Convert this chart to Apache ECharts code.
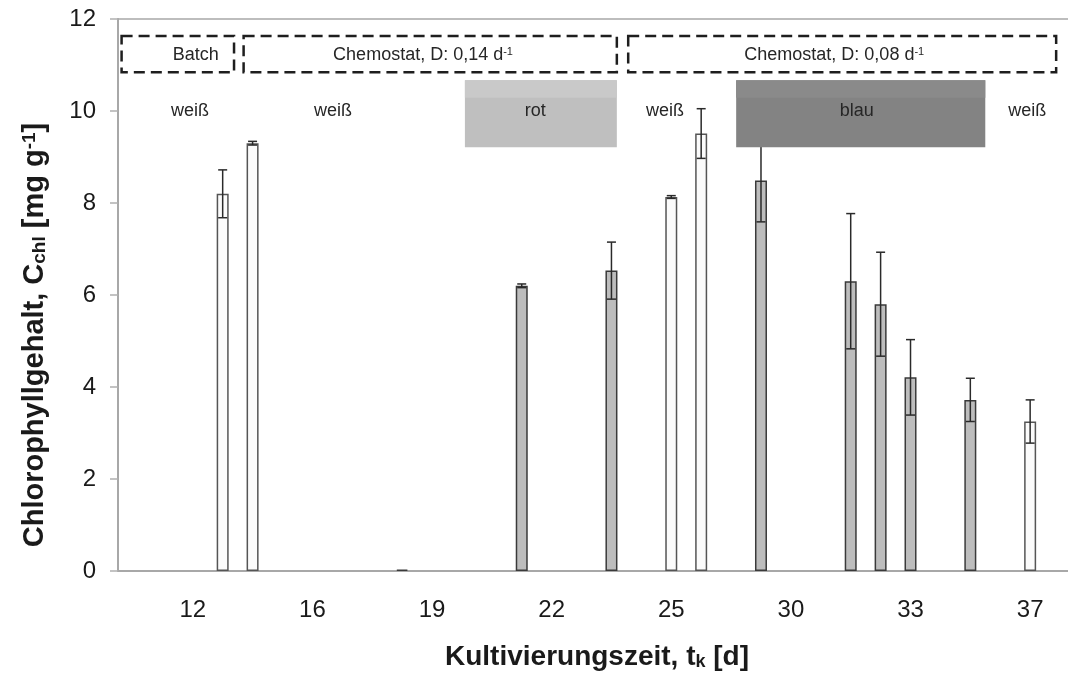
<!DOCTYPE html>
<html>
<head>
<meta charset="utf-8">
<script src="https://cdn.jsdelivr.net/npm/echarts@6/dist/echarts.min.js"></script>
<style>
  html, body { margin: 0; padding: 0; background: #ffffff; }
  #chart { width: 1068px; height: 678px; }
</style>
</head>
<body>
<div id="chart"></div>
<script>
// Category slots along the cultivation time axis (one slot per sampling position)
const slotCount = 32;
const tickSlots = [2, 6, 10, 14, 18, 22, 26, 30];
const tickTexts = ['12', '16', '19', '22', '25', '30', '33', '37'];

// Chlorophyll content per sample: slot, mean, standard deviation, shaded (coloured light) or open (white light)
const sampleSlot = [3, 4, 9, 13, 16, 18, 19, 21, 24, 25, 26, 28, 30];
const chlMean    = [8.20, 9.30, 0.03, 6.20, 6.53, 8.13, 9.51, 8.49, 6.30, 5.80, 4.21, 3.72, 3.25];
const chlSd      = [0.52, 0.04, 0.00, 0.04, 0.62, 0.03, 0.54, 0.90, 1.47, 1.13, 0.82, 0.47, 0.47];
const shaded     = [false, false, true, true, true, false, false, true, true, true, true, true, false];

// Cultivation phases (dashed boxes), in slot units
const phaseLabel = ['Batch', 'Chemostat, D: 0,14 d{sup|-1}', 'Chemostat, D: 0,08 d{sup|-1}'];
const phaseStart = [0.12, 4.20, 17.06];
const phaseEnd   = [3.88, 16.68, 31.37];
const phaseTextX = [2.6, 10.2, 23.95];
const phaseBand  = [10.84, 11.63];

// Coloured light periods (filled boxes)
const lightLabel = ['rot', 'blau'];
const lightStart = [11.60, 20.67];
const lightEnd   = [16.68, 29.00];
const lightTextX = [13.95, 24.7];
const lightFill  = ['#bfbfbf', '#838383'];
const lightTop   = ['#c9c9c9', '#8a8a8a'];
const lightBand  = [9.21, 10.67];

// White light labels
const whiteTextX = [2.41, 7.19, 18.29, 30.4];
const lightTextY = 10.0;

const FONT = "'Liberation Sans', Arial, sans-serif";

const slotNames = Array.from({ length: slotCount }, (_, i) => String(i));
const openData = Array(slotCount).fill('-');
const shadedData = Array(slotCount).fill('-');
const errData = [];
sampleSlot.forEach((s, i) => {
  if (shaded[i]) shadedData[s] = chlMean[i]; else openData[s] = chlMean[i];
  if (chlMean[i] > 0.1) errData.push([s, chlMean[i] - chlSd[i], chlMean[i] + chlSd[i]]);
});

const phaseData = phaseLabel.map((t, i) => [phaseStart[i], phaseEnd[i], phaseBand[0], phaseBand[1], phaseTextX[i], i]);
const lightData = lightLabel.map((t, i) => [lightStart[i], lightEnd[i], lightBand[0], lightBand[1], lightTextX[i], i]);
const whiteData = whiteTextX.map(x => [x, lightTextY]);

const chart = echarts.init(document.getElementById('chart'), null, { renderer: 'canvas' });

const option = {
  backgroundColor: '#ffffff',
  animation: false,
  grid: {
    left: 118, top: 19, width: 957, height: 552,
    outerBoundsMode: 'none', containLabel: false,
    show: true, borderColor: '#bdbdbd', borderWidth: 2
  },
  xAxis: [
    {
      type: 'category',
      data: slotNames,
      axisLine: { lineStyle: { color: '#a8a8a8', width: 2 } },
      axisTick: { show: false },
      axisLabel: {
        interval: 0,
        margin: 27,
        fontFamily: FONT,
        fontSize: 24,
        color: '#1a1a1a',
        formatter: (v, i) => { const k = tickSlots.indexOf(i); return k >= 0 ? tickTexts[k] : ''; }
      },
      splitLine: { show: false }
    },
    { type: 'value', min: 0, max: slotCount, show: false }
  ],
  yAxis: {
    type: 'value',
    min: 0, max: 12, interval: 2,
    axisLine: { show: true, lineStyle: { color: '#a8a8a8', width: 2 } },
    axisTick: { show: true, length: 8, lineStyle: { color: '#b0b0b0', width: 1.5 } },
    axisLabel: { margin: 22, fontFamily: FONT, fontSize: 24, color: '#1a1a1a' },
    splitLine: { show: false }
  },
  series: [
    {
      type: 'bar', name: 'weiß', data: openData, barWidth: 12, barGap: '-100%', z: 2,
      itemStyle: { color: '#fbfbfb', borderColor: '#555555', borderWidth: 1.5 }
    },
    {
      type: 'bar', name: 'farbig', data: shadedData, barWidth: 12, barGap: '-100%', z: 2,
      itemStyle: { color: '#bdbdbd', borderColor: '#3a3a3a', borderWidth: 1.5 }
    },
    {
      // error bars (± standard deviation)
      type: 'custom', data: errData, z: 3, encode: { x: 0, y: [1, 2] },
      renderItem: (params, api) => {
        const x = api.value(0);
        const lo = api.coord([x, api.value(1)]);
        const hi = api.coord([x, api.value(2)]);
        const hw = 4.5;
        const st = { stroke: '#2a2a2a', lineWidth: 1.5 };
        return {
          type: 'group',
          children: [
            { type: 'line', shape: { x1: lo[0], y1: lo[1], x2: hi[0], y2: hi[1] }, style: st },
            { type: 'line', shape: { x1: lo[0] - hw, y1: lo[1], x2: lo[0] + hw, y2: lo[1] }, style: st },
            { type: 'line', shape: { x1: hi[0] - hw, y1: hi[1], x2: hi[0] + hw, y2: hi[1] }, style: st }
          ]
        };
      }
    },
    {
      // coloured light periods
      type: 'custom', xAxisIndex: 1, data: lightData, z: 5, encode: { x: [0, 1], y: [2, 3] },
      renderItem: (params, api) => {
        const i = api.value(5);
        const p0 = api.coord([api.value(0), api.value(3)]);
        const p1 = api.coord([api.value(1), api.value(2)]);
        const h = p1[1] - p0[1];
        const t = api.coord([api.value(4), lightTextY]);
        return {
          type: 'group',
          children: [
            { type: 'rect', shape: { x: p0[0], y: p0[1], width: p1[0] - p0[0], height: h }, style: { fill: lightFill[i] } },
            { type: 'rect', shape: { x: p0[0], y: p0[1], width: p1[0] - p0[0], height: h * 0.26 }, style: { fill: lightTop[i] } },
            { type: 'text', x: t[0], y: t[1], style: { text: lightLabel[i], font: '18px ' + FONT, fill: '#262626', align: 'center', verticalAlign: 'middle' } }
          ]
        };
      }
    },
    {
      // cultivation phases
      type: 'custom', xAxisIndex: 1, data: phaseData, z: 5, encode: { x: [0, 1], y: [2, 3] },
      renderItem: (params, api) => {
        const i = api.value(5);
        const p0 = api.coord([api.value(0), api.value(3)]);
        const p1 = api.coord([api.value(1), api.value(2)]);
        const cy = (p0[1] + p1[1]) / 2 + 1;
        const tx = api.coord([api.value(4), 0])[0];
        return {
          type: 'group',
          children: [
            { type: 'rect', shape: { x: p0[0], y: p0[1], width: p1[0] - p0[0], height: p1[1] - p0[1] },
              style: { fill: 'none', stroke: '#1e1e1e', lineWidth: 2.5, lineDash: [11, 6] } },
            { type: 'text', x: tx, y: cy, style: {
                text: phaseLabel[i], font: '18px ' + FONT, fill: '#262626', align: 'center', verticalAlign: 'middle',
                rich: { sup: { fontSize: 11, fontFamily: FONT, verticalAlign: 'top', fill: '#262626' } } } }
          ]
        };
      }
    },
    {
      // white light labels
      type: 'custom', xAxisIndex: 1, data: whiteData, z: 5, encode: { x: 0, y: 1 },
      renderItem: (params, api) => {
        const p = api.coord([api.value(0), api.value(1)]);
        return { type: 'text', x: p[0], y: p[1], style: { text: 'weiß', font: '18px ' + FONT, fill: '#262626', align: 'center', verticalAlign: 'middle' } };
      }
    }
  ],
  graphic: [
    {
      type: 'text', x: 597, y: 657,
      style: {
        text: 'Kultivierungszeit, t{sub|k} [d]',
        font: 'bold 28px ' + FONT, fill: '#1a1a1a',
        align: 'center', verticalAlign: 'middle', textAlign: 'center', textVerticalAlign: 'middle',
        rich: { sub: { fontSize: 18, fontWeight: 'bold', fontFamily: FONT, verticalAlign: 'bottom', fill: '#1a1a1a' } }
      }
    },
    {
      type: 'text', x: 35, y: 335, rotation: Math.PI / 2,
      style: {
        text: 'Chlorophyllgehalt, C{sub|chl} [mg g{sup|-1}]',
        font: 'bold 29px ' + FONT, fill: '#1a1a1a',
        align: 'center', verticalAlign: 'middle', textAlign: 'center', textVerticalAlign: 'middle',
        rich: {
          sub: { fontSize: 19, fontWeight: 'bold', fontFamily: FONT, verticalAlign: 'bottom', fill: '#1a1a1a' },
          sup: { fontSize: 19, fontWeight: 'bold', fontFamily: FONT, verticalAlign: 'top', fill: '#1a1a1a' }
        }
      }
    }
  ]
};

chart.setOption(option);
</script>
</body>
</html>
